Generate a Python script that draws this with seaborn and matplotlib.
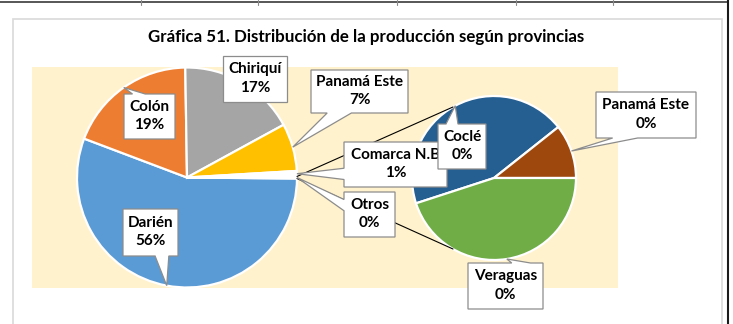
import numpy as np
import matplotlib
matplotlib.use("Agg")
import matplotlib.pyplot as plt
from matplotlib.patches import Polygon, Rectangle
import seaborn as sns

# Share of production by province (percent of total)
main_labels = ["Darién", "Colón", "Chiriquí", "Panamá Este", "Comarca N.B"]
main_values = [55.6, 19.0, 17.3, 7.0, 0.8]

# Small provinces grouped as "Otros" and broken out in the secondary pie
other_label = "Otros"
sub_labels = ["Coclé", "Panamá Este", "Veraguas"]
sub_values = [0.133, 0.032, 0.135]

title = "Gráfica 51. Distribución de la producción según provincias"

main_colors = ["#5B9BD5", "#ED7D31", "#A5A5A5", "#FFC000", "#FFFFFF", "#FFFFFF"]
sub_colors = ["#255E91", "#9E480E", "#70AD47"]

# ---------------------------------------------------------------- layout
W, H = 733, 324


def Y(py):
    """Convert a top-down pixel row to the axes' bottom-up y."""
    return H - py


main_c = np.array([187.0, Y(177.5)])
main_r = 110.0
sub_c = np.array([494.0, Y(178.0)])
sub_r = 82.0

# label boxes: (left, right, top, bottom) in pixel rows
main_boxes = [(123, 178, 209, 256), (124, 175, 94, 139), (223, 287, 56, 102),
              (311, 408, 70, 113), (344, 447, 142, 187), (344, 395, 192, 237)]
sub_boxes = [(438, 486, 124, 169), (596, 696, 92, 138), (468, 543, 263, 309)]

sns.set_theme(style="white")
plt.rcParams["font.family"] = ["Lato", "DejaVu Sans"]

fig = plt.figure(figsize=(W / 100, H / 100), dpi=100)
ax = fig.add_axes([0, 0, 1, 1])

# surrounding page lines and chart frame
ax.plot([0, 728], [Y(1.5), Y(1.5)], color="#3a3a3a", lw=1.2, zorder=1)
ax.plot([727.5, 727.5], [0, H], color="#1a1a1a", lw=1.5, zorder=1)
for x in [141, 258, 397, 516, 613]:
    ax.plot([x, x], [Y(0), Y(5)], color="#8a8a8a", lw=0.8, zorder=1)
ax.add_patch(Rectangle((12.5, Y(340)), 722 - 12.5, 340 - 19,
                       fill=False, ec="#d9d9d9", lw=1.2, zorder=1))
ax.add_patch(Rectangle((32, Y(288)), 618 - 32, 288 - 67,
                       fc="#FFF2CC", ec="none", zorder=1))

ax.text(366.5, Y(37), title, ha="center", va="center", fontsize=12.2,
        fontweight="bold", color="black", zorder=6)

# ---------------------------------------------------------------- pies
other_value = sum(sub_values)
pie_values = main_values + [other_value]
pie_names = main_labels + [other_label]
total = sum(pie_values)
other_deg = 360 * other_value / total

wedge_style = dict(edgecolor="white", linewidth=1.6)
w_main, _ = ax.pie(pie_values, center=main_c, radius=main_r,
                   startangle=-other_deg / 2, counterclock=False,
                   colors=sns.color_palette(main_colors),
                   wedgeprops=wedge_style, frame=True)
sub_start = 360 * (sub_values[0] + sub_values[1]) / sum(sub_values)
w_sub, _ = ax.pie(sub_values, center=sub_c, radius=sub_r,
                  startangle=sub_start, counterclock=False,
                  colors=sns.color_palette(sub_colors),
                  wedgeprops=wedge_style, frame=True)
for w in w_main + w_sub:
    w.set_zorder(2)


def on_edge(c, r, deg):
    a = np.deg2rad(deg)
    return c + r * np.array([np.cos(a), np.sin(a)])


# series lines joining the "Otros" slice to the secondary pie
ow = w_main[-1]
for a_main, a_sub in [(ow.theta2, 120), (ow.theta1, 240)]:
    p1 = on_edge(main_c, main_r, a_main)
    p2 = on_edge(sub_c, sub_r, a_sub)
    ax.plot([p1[0], p2[0]], [p1[1], p2[1]], color="black", lw=0.8, zorder=3)


# ---------------------------------------------------------------- callouts
def callout_vertices(x0, x1, y0, y1, tx, ty):
    """Rectangle (y0 bottom, y1 top) with a wedge pointer toward (tx, ty)."""
    w, h = x1 - x0, y1 - y0
    cx, cy = (x0 + x1) / 2, (y0 + y1) / 2
    dx, dy = tx - cx, ty - cy
    if x0 <= tx <= x1 and y0 <= ty <= y1:
        return [(x0, y0), (x1, y0), (x1, y1), (x0, y1)]
    if abs(dy) > abs(dx * h / w):
        a, b = ((x0 + w * 7 / 12, x0 + w * 10 / 12) if dx > 0
                else (x0 + w * 2 / 12, x0 + w * 5 / 12))
        if dy > 0:
            return [(x0, y0), (x1, y0), (x1, y1), (b, y1), (tx, ty), (a, y1), (x0, y1)]
        return [(x0, y0), (a, y0), (tx, ty), (b, y0), (x1, y0), (x1, y1), (x0, y1)]
    a, b = ((y1 - h * 7 / 12, y1 - h * 10 / 12) if dy < 0
            else (y1 - h * 2 / 12, y1 - h * 5 / 12))
    if dx < 0:
        return [(x0, y0), (x1, y0), (x1, y1), (x0, y1), (x0, a), (tx, ty), (x0, b)]
    return [(x0, y0), (x1, y0), (x1, b), (tx, ty), (x1, a), (x1, y1), (x0, y1)]


entries = []
for wdg, name, val, box in zip(w_main, pie_names, pie_values, main_boxes):
    entries.append((wdg, main_c, main_r, name, val, box))
for wdg, name, val, box in zip(w_sub, sub_labels, sub_values, sub_boxes):
    entries.append((wdg, sub_c, sub_r, name, val, box))

for i, (wdg, c, r, name, val, box) in enumerate(entries):
    left, right, top, bottom = box
    x0, x1, y0, y1 = left, right, Y(bottom), Y(top)
    tip = on_edge(c, r, (wdg.theta1 + wdg.theta2) / 2)
    z = 4 + i * 0.01
    ax.add_patch(Polygon(callout_vertices(x0, x1, y0, y1, *tip), closed=True,
                         fc="white", ec="#8c8c8c", lw=0.9, zorder=z,
                         joinstyle="miter"))
    pct = int(round(val / total * 100))
    ax.text((x0 + x1) / 2, (y0 + y1) / 2 + 0.5, f"{name}\n{pct}%", ha="center",
            va="center", fontsize=11, fontweight="bold", color="black",
            linespacing=1.38, zorder=z + 0.005)

ax.set_xlim(0, W)
ax.set_ylim(0, H)
ax.axis("off")
fig.savefig("out.png", dpi=100)
